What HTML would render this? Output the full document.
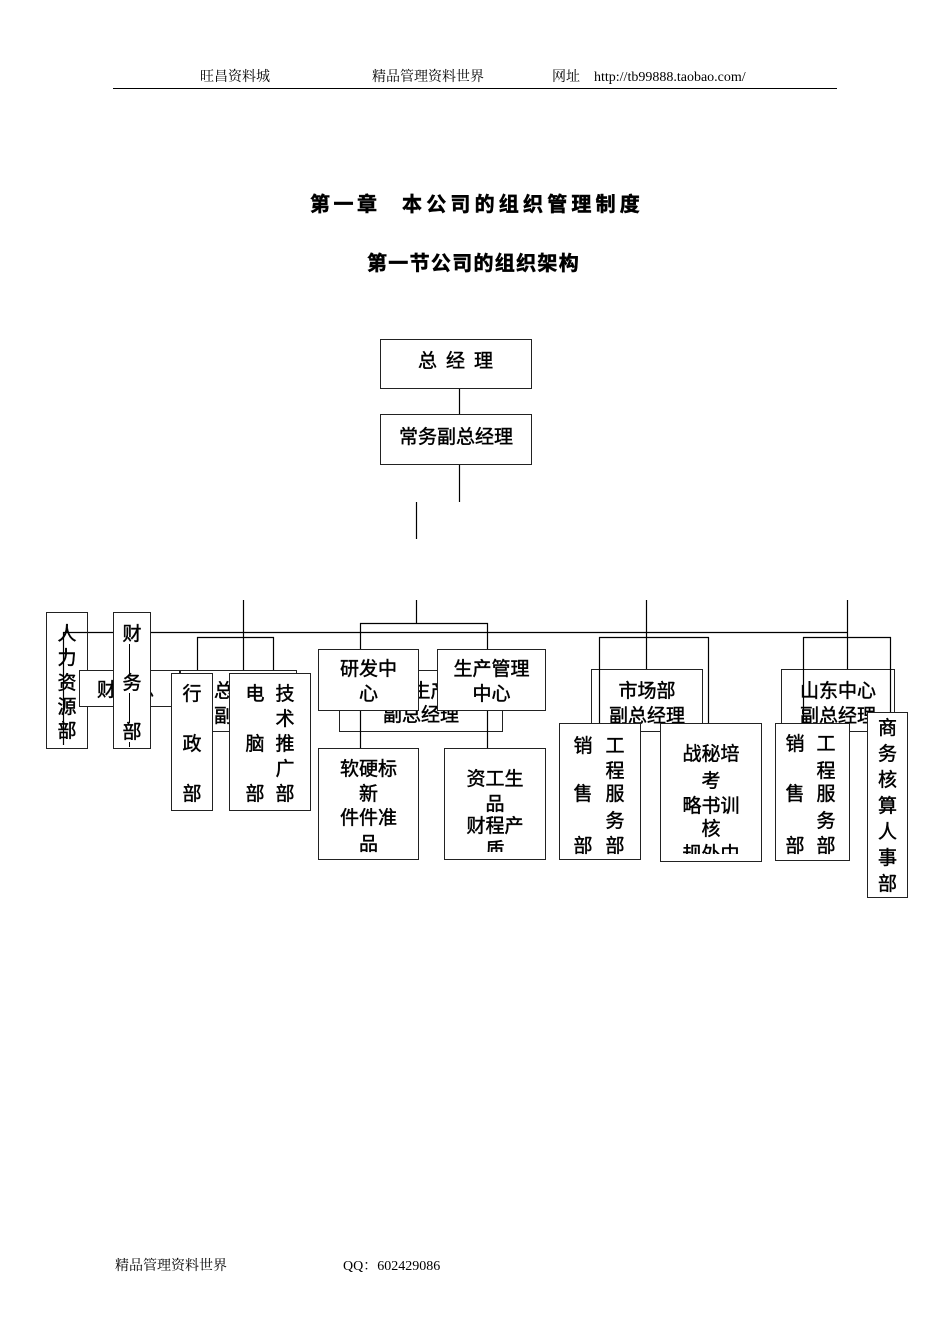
<!DOCTYPE html>
<html><head><meta charset="utf-8">
<style>
html,body{margin:0;padding:0;background:#fff;}
#pg{position:relative;width:950px;height:1344px;overflow:hidden;background:#fff;}
.hd{position:absolute;font-family:"Liberation Serif","Noto Serif CJK SC",serif;font-size:14px;line-height:16px;color:#000;white-space:nowrap;}
.tt{position:absolute;font-family:"Liberation Sans","Noto Sans CJK SC",sans-serif;font-weight:bold;font-size:20px;line-height:24px;color:#000;white-space:nowrap;-webkit-text-stroke:0.5px #000;}
.b{position:absolute;box-sizing:border-box;border:1px solid #222;background:#fff;overflow:hidden;font-family:"Liberation Sans","WenQuanYi Zen Hei","Noto Sans CJK SC",sans-serif;font-size:19px;color:#000;-webkit-text-stroke:0.45px #000;}
.t{position:absolute;left:0;right:0;text-align:center;line-height:20px;white-space:nowrap;margin-top:2px;}
.c{position:absolute;width:24px;text-align:center;line-height:20px;margin-top:2px;}
.clip{position:absolute;left:0;right:0;top:0;overflow:hidden;}
svg{position:absolute;left:0;top:0;}
</style></head><body><div id="pg">

<!-- header -->
<div class="hd" style="left:200px;top:70px;">旺昌资料城</div>
<div class="hd" style="left:372px;top:70px;">精品管理资料世界</div>
<div class="hd" style="left:552px;top:70px;">网址</div>
<div class="hd" style="left:594px;top:70px;">http://tb99888.taobao.com/</div>
<div style="position:absolute;left:113px;top:88px;width:724px;height:1px;background:#000;"></div>

<!-- titles -->
<div class="tt" style="left:310px;top:193px;letter-spacing:3.5px;">第一章</div>
<div class="tt" style="left:402px;top:193px;letter-spacing:4.2px;">本公司的组织管理制度</div>
<div class="tt" style="left:367px;top:252px;letter-spacing:1.3px;">第一节公司的组织架构</div>

<!-- connectors layer A -->
<svg width="950" height="1344" stroke="#000" stroke-width="1.2" fill="none">
<path d="M63 632.5H847"/>
<path d="M243.5 600V673M197 637.5H274M197.5 637V673M273.5 637V673"/>
<path d="M416.5 600V623M360 623.5H488M360.5 623V649M487.5 623V649"/>
<path d="M646.5 600V669M599 637.5H709"/>
<path d="M847.5 600V669M803 637.5H891"/>
<path d="M459.5 389V414M459.5 465V502M416.5 502V539"/>
</svg>

<!-- top boxes -->
<div class="b" style="left:380px;top:339px;width:152px;height:50px;">
 <div class="t" style="top:10px;letter-spacing:9px;padding-left:8px;">总经理</div>
</div>
<div class="b" style="left:380px;top:414px;width:152px;height:51px;">
 <div class="t" style="top:11px;">常务副总经理</div>
</div>

<!-- left cluster -->
<div class="b" style="left:46px;top:612px;width:42px;height:137px;background:transparent;">
 <div class="t" style="top:8px;line-height:24.3px;">人<br>力<br>资<br>源<br>部</div>
</div>
<div class="b" style="left:79px;top:670px;width:101px;height:37px;">
 <div style="position:absolute;left:17px;top:10px;line-height:20px;white-space:nowrap;">财务总</div>
</div>
<div class="b" style="left:113px;top:612px;width:38px;height:137px;">
 <div style="position:absolute;left:15px;top:20px;width:1px;height:114px;background:#000;"></div>
 <div class="t" style="top:10px;line-height:19px;"><span style="background:#fff;display:inline-block;">财</span></div>
 <div class="t" style="top:59px;line-height:19px;"><span style="background:#fff;display:inline-block;">务</span></div>
 <div class="t" style="top:108px;line-height:19px;"><span style="background:#fff;display:inline-block;">部</span></div>
</div>
<div class="b" style="left:180px;top:670px;width:117px;height:62px;">
 <div style="position:absolute;left:33px;top:11px;line-height:20px;white-space:nowrap;">总经办</div>
 <div style="position:absolute;left:33px;top:36px;line-height:20px;white-space:nowrap;">副总经理</div>
</div>
<div class="b" style="left:171px;top:673px;width:42px;height:138px;">
 <div class="t" style="top:9px;">行</div>
 <div class="t" style="top:59px;">政</div>
 <div class="t" style="top:109px;">部</div>
</div>
<div class="b" style="left:229px;top:673px;width:82px;height:138px;">
 <div class="c" style="left:13px;top:9px;">电</div>
 <div class="c" style="left:13px;top:59px;">脑</div>
 <div class="c" style="left:13px;top:109px;">部</div>
 <div class="c" style="left:43px;top:9px;">技</div>
 <div class="c" style="left:43px;top:34px;">术</div>
 <div class="c" style="left:43px;top:59px;">推</div>
 <div class="c" style="left:43px;top:84px;">广</div>
 <div class="c" style="left:43px;top:109px;">部</div>
</div>

<!-- background boxes of other clusters -->
<div class="b" style="left:339px;top:670px;width:164px;height:62px;">
 <div class="t" style="top:9px;">管生产</div>
 <div class="t" style="top:33px;">副总经理</div>
</div>
<div class="b" style="left:591px;top:669px;width:112px;height:63px;">
 <div class="t" style="top:10px;">市场部</div>
 <div class="t" style="top:35px;">副总经理</div>
</div>
<div class="b" style="left:781px;top:669px;width:114px;height:63px;">
 <div class="t" style="top:10px;">山东中心</div>
 <div class="t" style="top:35px;">副总经理</div>
</div>

<!-- overlay connectors -->
<svg width="950" height="1344" stroke="#000" stroke-width="1.2" fill="none">
<path d="M63.5 632V745"/>
<path d="M360.5 711V748M487.5 711V748"/>
<path d="M599.5 637V723M708.5 637V723"/>
<path d="M803.5 637V723M890.5 637V712"/>
</svg>

<!-- front boxes middle -->
<div class="b" style="left:318px;top:649px;width:101px;height:62px;">
 <div class="t" style="top:8px;">研发中</div>
 <div class="t" style="top:33px;">心</div>
</div>
<div class="b" style="left:437px;top:649px;width:109px;height:62px;">
 <div class="t" style="top:8px;">生产管理</div>
 <div class="t" style="top:33px;">中心</div>
</div>
<div class="b" style="left:318px;top:748px;width:101px;height:112px;">
 <div class="t" style="top:9px;">软硬标</div>
 <div class="t" style="top:34px;">新</div>
 <div class="t" style="top:58px;">件件准</div>
 <div class="t" style="top:84px;">品</div>
</div>
<div class="b" style="left:444px;top:748px;width:102px;height:112px;">
 <div class="clip" style="height:103px;">
  <div class="t" style="top:19px;">资工生</div>
  <div class="t" style="top:44px;">品</div>
  <div class="t" style="top:66px;">财程产</div>
  <div class="t" style="top:90px;">质</div>
 </div>
</div>

<!-- market cluster front -->
<div class="b" style="left:559px;top:723px;width:82px;height:137px;">
 <div class="c" style="left:11px;top:11px;">销</div>
 <div class="c" style="left:11px;top:59px;">售</div>
 <div class="c" style="left:11px;top:111px;">部</div>
 <div class="c" style="left:43px;top:11px;">工</div>
 <div class="c" style="left:43px;top:36px;">程</div>
 <div class="c" style="left:43px;top:59px;">服</div>
 <div class="c" style="left:43px;top:86px;">务</div>
 <div class="c" style="left:43px;top:111px;">部</div>
</div>
<div class="b" style="left:660px;top:723px;width:102px;height:139px;">
 <div class="clip" style="height:130px;">
  <div class="t" style="top:19px;">战秘培</div>
  <div class="t" style="top:46px;">考</div>
  <div class="t" style="top:71px;">略书训</div>
  <div class="t" style="top:94px;">核</div>
  <div class="t" style="top:119px;">规外中</div>
 </div>
</div>

<!-- shandong cluster front -->
<div class="b" style="left:775px;top:723px;width:75px;height:138px;">
 <div class="c" style="left:7px;top:9px;">销</div>
 <div class="c" style="left:7px;top:59px;">售</div>
 <div class="c" style="left:7px;top:111px;">部</div>
 <div class="c" style="left:38px;top:9px;">工</div>
 <div class="c" style="left:38px;top:36px;">程</div>
 <div class="c" style="left:38px;top:59px;">服</div>
 <div class="c" style="left:38px;top:86px;">务</div>
 <div class="c" style="left:38px;top:111px;">部</div>
</div>
<div class="b" style="left:867px;top:712px;width:41px;height:186px;">
 <div class="t" style="top:1px;line-height:26px;">商<br>务<br>核<br>算<br>人<br>事<br>部</div>
</div>

<!-- footer -->
<div class="hd" style="left:115px;top:1259px;">精品管理资料世界</div>
<div class="hd" style="left:343px;top:1259px;">QQ：602429086</div>

</div></body></html>
